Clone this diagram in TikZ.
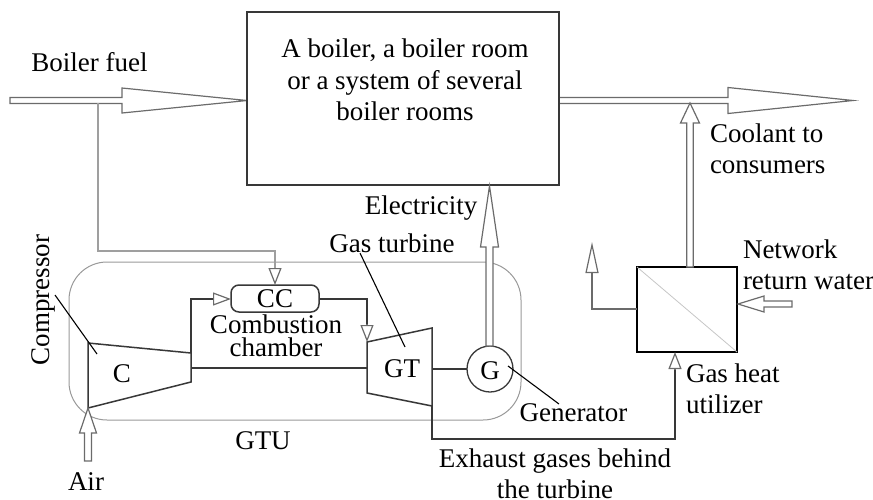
\documentclass[tikz,border=0pt]{standalone}
\usepackage{fontspec}
\setmainfont{Liberation Serif}
\usetikzlibrary{arrows.meta,calc}
\definecolor{ink}{gray}{0.22}
\definecolor{mid}{gray}{0.42}
\tikzset{
  x=1pt,y=-1pt,
  every node/.style={inner sep=0pt,outer sep=0pt,font=\fontsize{27}{31.5}\selectfont},
  label/.style={align=center},
  lefttext/.style={align=left,anchor=west},
  unit/.style={draw=ink,line width=1.5pt},
  flow/.style={draw=mid,line width=1.2pt},
  leader/.style={draw=black,line width=1.1pt},
  fat/.style={draw=mid,line width=1.2pt,fill=white,line join=miter},
  thintip/.style={-{Triangle[open,fill=white,length=#1,width=13pt]}},
}
% fat hollow arrow: start, head base, tip, shaft half width, head half width
\newcommand{\fatarrow}[5]{%
  \draw[fat] ($(#1)!#4!90:(#2)$) -- ($(#2)!#4!-90:(#1)$) -- ($(#2)!#5!-90:(#1)$) -- (#3)
     -- ($(#2)!#5!90:(#1)$) -- ($(#2)!#4!90:(#1)$) -- ($(#1)!#4!-90:(#2)$) -- cycle;
}
\begin{document}
\begin{tikzpicture}
\useasboundingbox (0,0) rectangle (873,499);
% GTU envelope
\draw[draw=gray!80,line width=1pt,rounded corners=38pt] (69,262) rectangle (521,420);
% fuel and outlet arrows (under the boiler box edge)
\coordinate (fuelstart) at (10,100.5); \coordinate (fuelbase) at (122,100.5);
\coordinate (fueltip) at (247,100.5);
\fatarrow{fuelstart}{fuelbase}{fueltip}{3pt}{12.5pt}
\coordinate (outstart) at (559,100.5); \coordinate (outbase) at (728,100.5);
\coordinate (outtip) at (853,100.5);
\fatarrow{outstart}{outbase}{outtip}{3pt}{13pt}
% main box
\node[unit,minimum width=312pt,minimum height=173pt,anchor=north west] (boiler) at (247,12) {};
\node[label] (boilertext) at (405,80) {A boiler, a boiler room\\or a system of several\\boiler rooms};
% utilizer
\node[unit,draw=black,minimum width=100pt,minimum height=85pt,anchor=north west] (util) at (637,267) {};
\draw[draw=gray!45,line width=.8pt] (util.north west) -- (util.south east);
% generator
\node[circle,draw=ink,line width=1.3pt,minimum size=46pt] (gen) at (490,369) {};
\node (gname) at (490,371) {G};
% combustion chamber
\node[draw=ink,line width=1.5pt,rounded corners=8pt,minimum width=88pt,minimum height=27pt] (cc) at (275,298.5) {CC};
% compressor
\coordinate (c1) at (88,343); \coordinate (c2) at (191,353);
\coordinate (c3) at (191,382); \coordinate (c4) at (88,408);
\draw[unit] (c1) -- (c2) -- (c3) -- (c4) -- cycle;
\node (cname) at (122,374) {C};
% turbine
\coordinate (t1) at (367,342); \coordinate (t2) at (432,328);
\coordinate (t3) at (432,406); \coordinate (t4) at (367,393);
\draw[unit] (t1) -- (t2) -- (t3) -- (t4) -- cycle;
\node (tname) at (402,369) {GT};
% shaft lines
\coordinate (sc) at (191,368); \coordinate (st) at (367,368);
\draw[unit] (sc) -- (st);
\coordinate (gl) at (432,369);
\draw[unit] (gl) -- (gen.west);
% utilizer to outlet
\coordinate (upstart) at (690,267); \coordinate (upbase) at (690,123); \coordinate (uptip) at (690,103);
\fatarrow{upstart}{upbase}{uptip}{3.2pt}{9.5pt}
% generator to boiler
\coordinate (elstart) at (489.5,346); \coordinate (elbase) at (489.5,247); \coordinate (eltip) at (489.5,186);
\fatarrow{elstart}{elbase}{eltip}{3.5pt}{9pt}
% air
\coordinate (airstart) at (88,461); \coordinate (airbase) at (88,433); \coordinate (airtip) at (88,408);
\fatarrow{airstart}{airbase}{airtip}{3.5pt}{8.5pt}
% return water
\coordinate (retstart) at (792,304); \coordinate (retbase) at (764,304); \coordinate (rettip) at (738,304);
\fatarrow{retstart}{retbase}{rettip}{3pt}{8pt}
% thin flows
\coordinate (b0) at (98,103); \coordinate (b1) at (98,251); \coordinate (b2) at (275,251); \coordinate (b3) at (275,268);
\draw[flow,draw=gray!75] (b0) -- (b1) -- (b2) -- (b3);
\draw[flow,thintip=17pt] (b3) -- (cc.north);
\coordinate (cin) at (191,353); \coordinate (cinb) at (191,299); \coordinate (cinc) at (213,299);
\draw[flow,draw=ink] (cin) -- (cinb) -- (cinc);
\draw[flow,thintip=18pt] (cinc) -- (cc.west |- cinc);
\coordinate (ccr) at (367,299); \coordinate (ccs) at (367,324);
\draw[flow,draw=ink] (cc.east |- ccr) -- (ccr) -- (ccs);
\draw[flow,thintip=17pt] (ccs) -- (t1);
\coordinate (ex1) at (432,439); \coordinate (ex2) at (675,439); \coordinate (ex3) at (675,370);
\draw[flow,draw=ink] (t3) -- (ex1) -- (ex2) -- (ex3);
\draw[flow,thintip=17pt] (ex3) -- (ex3 |- util.south);
\coordinate (w0) at (592,309); \coordinate (w1) at (592,273); \coordinate (w2) at (592,242);
\draw[flow] (util.west |- w0) -- (w0) -- (w1);
\draw[flow,thintip=31pt] (w1) -- (w2);
% leaders
\coordinate (l1a) at (55,295); \coordinate (l1b) at (97,354);
\draw[leader] (l1a) -- (l1b);
\coordinate (l2a) at (360,253); \coordinate (l2b) at (405,347);
\draw[leader] (l2a) -- (l2b);
\coordinate (l3a) at (508,366); \coordinate (l3b) at (559,404);
\draw[leader] (l3a) -- (l3b);
% labels
\node (t1x) at (89.5,62) {Boiler fuel};
\node[lefttext] (t2x) at (710,149) {Coolant to\\consumers};
\node (t3x) at (421,208) {Electricity};
\node (t4x) at (392,243) {Gas turbine};
\node[lefttext] (t5x) at (743,265) {Network\\return water};
\node[lefttext] (t6x) at (686,389) {Gas heat\\utilizer};
\node (t7x) at (573.5,413) {Generator};
\node[label] (t8x) at (555,474) {Exhaust gases behind\\the turbine};
\node (t9x) at (263,441) {GTU};
\node (t10x) at (86,482) {Air};
\node[label,font=\fontsize{27}{23}\selectfont] (t11x) at (276,336) {Combustion\\chamber};
\node[rotate=90] (t12x) at (43,300) {Compressor};
\end{tikzpicture}
\end{document}
